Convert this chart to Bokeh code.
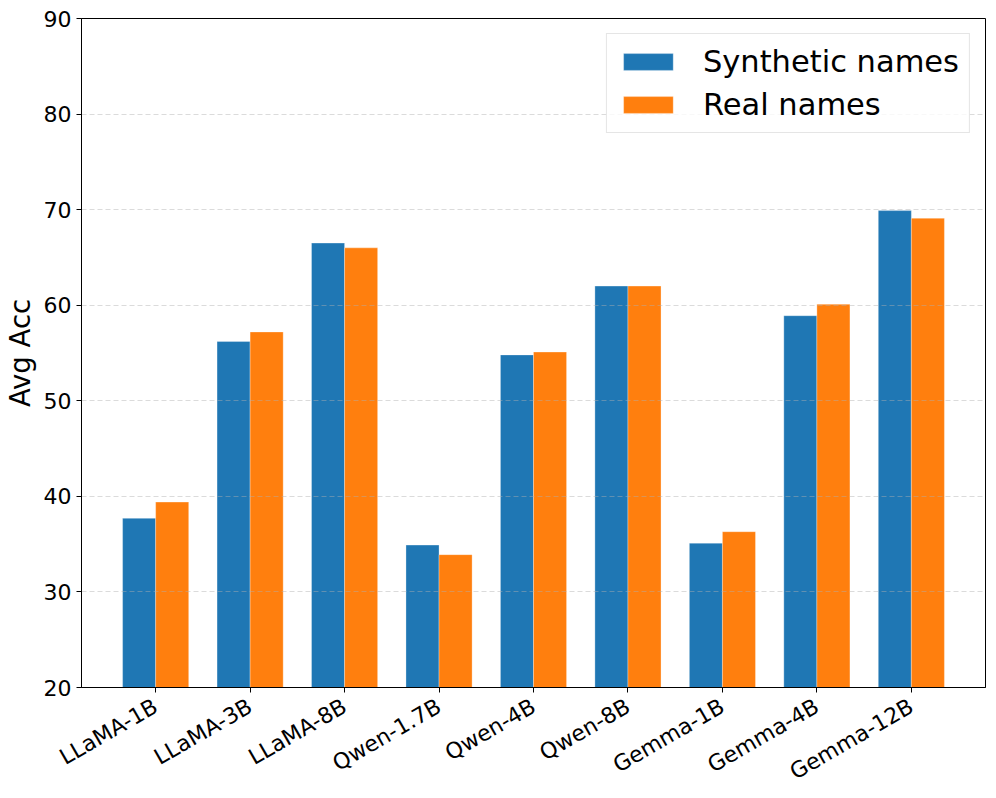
import math
from bokeh.plotting import figure
from bokeh.models import ColumnDataSource, Range1d, FixedTicker
from bokeh.transform import dodge
from bokeh.embed import file_html
from bokeh.resources import INLINE

models = ["LLaMA-1B", "LLaMA-3B", "LLaMA-8B", "Qwen-1.7B", "Qwen-4B",
          "Qwen-8B", "Gemma-1B", "Gemma-4B", "Gemma-12B"]
synthetic = [37.7, 56.2, 66.5, 34.9, 54.8, 62.0, 35.1, 58.9, 69.9]
real = [39.4, 57.2, 66.0, 33.9, 55.1, 62.0, 36.3, 60.1, 69.1]
y_ticks = [20, 30, 40, 50, 60, 70, 80, 90]
y_min, y_max = 20, 90

FONT = "DejaVu Sans"

source = ColumnDataSource(data=dict(
    x=list(range(len(models))), model=models, synthetic=synthetic, real=real))

p = figure(width=988, height=798, output_backend="svg", toolbar_location=None,
           x_range=Range1d(-0.785, len(models) - 1 + 0.785),
           y_range=Range1d(y_min, y_max))
p.min_border_left = 81
p.min_border_top = 18
p.min_border_right = 3
p.min_border_bottom = 110

bw = 0.35
p.vbar(x=dodge("x", -bw / 2), top="synthetic", bottom=y_min, width=bw, source=source,
       fill_color="#1f77b4", line_color="white", line_width=0.6, line_alpha=0.5,
       legend_label="Synthetic names")
p.vbar(x=dodge("x", bw / 2), top="real", bottom=y_min, width=bw, source=source,
       fill_color="#ff7f0e", line_color="white", line_width=0.6, line_alpha=0.5,
       legend_label="Real names")

p.xgrid.visible = False
p.ygrid.grid_line_color = "#b0b0b0"
p.ygrid.grid_line_alpha = 0.45
p.ygrid.grid_line_dash = "5 3"
p.ygrid.grid_line_width = 1
p.ygrid.level = "glyph"
p.ygrid.ticker = FixedTicker(ticks=y_ticks)

p.outline_line_color = "black"
p.outline_line_width = 1

p.xaxis.ticker = FixedTicker(ticks=list(range(len(models))))
p.xaxis.major_label_overrides = {i: m for i, m in enumerate(models)}
p.xaxis.major_label_orientation = math.pi / 6
p.yaxis.ticker = FixedTicker(ticks=y_ticks)

for ax in (p.xaxis[0], p.yaxis[0]):
    ax.axis_line_color = "black"
    ax.major_tick_line_color = "black"
    ax.major_tick_out = 5
    ax.major_tick_in = 0
    ax.minor_tick_line_color = None
    ax.major_label_text_font = FONT
    ax.major_label_text_font_size = "22px"
    ax.major_label_text_color = "black"
    ax.major_label_standoff = 5
p.xaxis.major_label_standoff = 12

p.yaxis.axis_label = "Avg Acc"
p.yaxis.axis_label_text_font = FONT
p.yaxis.axis_label_text_font_size = "27.5px"
p.yaxis.axis_label_text_font_style = "normal"
p.yaxis.axis_label_text_color = "black"
p.yaxis.axis_label_standoff = 5

lg = p.legend[0]
lg.location = "top_right"
lg.margin = 15
lg.label_text_font = FONT
lg.label_text_font_size = "30.5px"
lg.label_text_color = "black"
lg.glyph_width = 62
lg.glyph_height = 21
lg.label_standoff = 24
lg.padding = 10
lg.spacing = 8
lg.border_line_color = "#cccccc"
lg.border_line_width = 1
lg.background_fill_alpha = 0.8

open("out.html", "w").write(file_html(p, INLINE))
